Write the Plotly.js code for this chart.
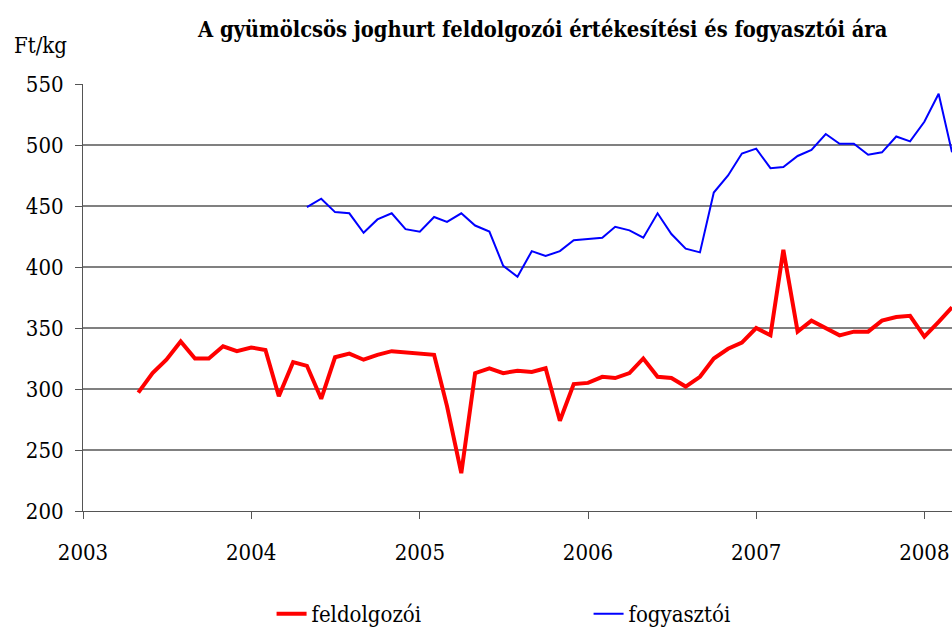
<!DOCTYPE html>
<html>
<head>
<meta charset="utf-8">
<script src="https://cdn.plot.ly/plotly-3.0.1.min.js"></script>
<style>html,body{margin:0;padding:0;background:#fff;}#chart{width:952px;height:630px;}</style>
</head>
<body>
<div id="chart"></div>
<script>
// Monthly prices, Ft/kg
const feldolgozoiStart = [2003, 5]; // first month (May 2003)
const feldolgozoi = [297, 313, 324, 339, 325, 325, 335, 331,
  334, 332, 294, 322, 319, 292, 326, 329, 324, 328, 331, 330,
  329, 328, 286, 231, 313, 317, 313, 315, 314, 317, 274, 304,
  305, 310, 309, 313, 325, 310, 309, 302, 310, 325, 333, 338,
  350, 344, 414, 347, 356, 350, 344, 347, 347, 356, 359, 360,
  343, 355, 367];
const fogyasztoiStart = [2004, 5]; // first month (May 2004)
const fogyasztoi = [449, 456, 445, 444, 428, 439, 444, 431,
  429, 441, 437, 444, 434, 429, 401, 392, 413, 409, 413, 422,
  423, 424, 433, 430, 424, 444, 427, 415, 412, 461, 475, 493,
  497, 481, 482, 491, 496, 509, 501, 501, 492, 494, 507, 503,
  519, 542, 494];
const seriesNames = ['feldolgozói', 'fogyasztói'];
const yearTicks = ['2003', '2004', '2005', '2006', '2007', '2008'];
const yTicks = [200, 250, 300, 350, 400, 450, 500, 550];

function monthDates(start, n) {
  const out = [];
  let y = start[0], m = start[1];
  for (let i = 0; i < n; i++) {
    out.push(y + '-' + String(m).padStart(2, '0') + '-01');
    m++; if (m > 12) { m = 1; y++; }
  }
  return out;
}

const FONT = 'DejaVu Serif Condensed';
const FS = 22;

const traces = [
  {x: monthDates(feldolgozoiStart, feldolgozoi.length), y: feldolgozoi, name: seriesNames[0],
   type: 'scatter', mode: 'lines', line: {color: '#ff0000', width: 4}, hoverinfo: 'skip'},
  {x: monthDates(fogyasztoiStart, fogyasztoi.length), y: fogyasztoi, name: seriesNames[1],
   type: 'scatter', mode: 'lines', line: {color: '#0000ff', width: 2}, hoverinfo: 'skip'}
];

const layout = {
  width: 952, height: 630,
  margin: {l: 83, r: 0, t: 84, b: 119, pad: 0, autoexpand: false},
  paper_bgcolor: '#ffffff', plot_bgcolor: '#ffffff',
  font: {family: FONT, size: FS, color: '#000'},
  title: {text: '<b>A gyümölcsös joghurt feldolgozói értékesítési és fogyasztói ára</b>',
          font: {family: FONT, size: 21.7, color: '#000'},
          x: 0.57, xanchor: 'center', y: 0.953, yanchor: 'middle'},
  xaxis: {
    type: 'date',
    range: ['2003-01-01', '2008-03-01'],
    tickmode: 'array',
    tickvals: yearTicks.map(y => y + '-01-01'),
    ticktext: yearTicks,
    ticks: 'outside', ticklen: 7, tickcolor: '#555', tickwidth: 1,
    showline: true, linecolor: '#555', linewidth: 1,
    showgrid: false, zeroline: false,
    automargin: false,
    ticklabelstandoff: 15,
    tickfont: {family: FONT, size: FS, color: '#000'},
    fixedrange: true
  },
  yaxis: {
    range: [200, 550],
    tickvals: yTicks,
    ticks: 'outside', ticklen: 7, tickcolor: '#555', tickwidth: 1,
    showline: true, linecolor: '#555', linewidth: 1,
    showgrid: true, gridcolor: '#808080', gridwidth: 1.3,
    zeroline: false,
    automargin: false,
    ticklabelstandoff: 7,
    tickfont: {family: FONT, size: FS, color: '#000'},
    fixedrange: true
  },
  showlegend: true,
  legend: {
    orientation: 'h', x: 0.217, xanchor: 'left', y: -0.241, yanchor: 'middle',
    font: {family: FONT, size: FS, color: '#000'},
    entrywidth: 272, entrywidthmode: 'pixels',
    bgcolor: 'rgba(0,0,0,0)', itemclick: false
  },
  annotations: [
    {text: 'Ft/kg', xref: 'paper', yref: 'paper', x: -0.082, y: 1.09,
     xanchor: 'left', yanchor: 'middle', showarrow: false,
     font: {family: FONT, size: FS, color: '#000'}}
  ]
};

Plotly.newPlot('chart', traces, layout, {displayModeBar: false, staticPlot: true});
</script>
</body>
</html>
